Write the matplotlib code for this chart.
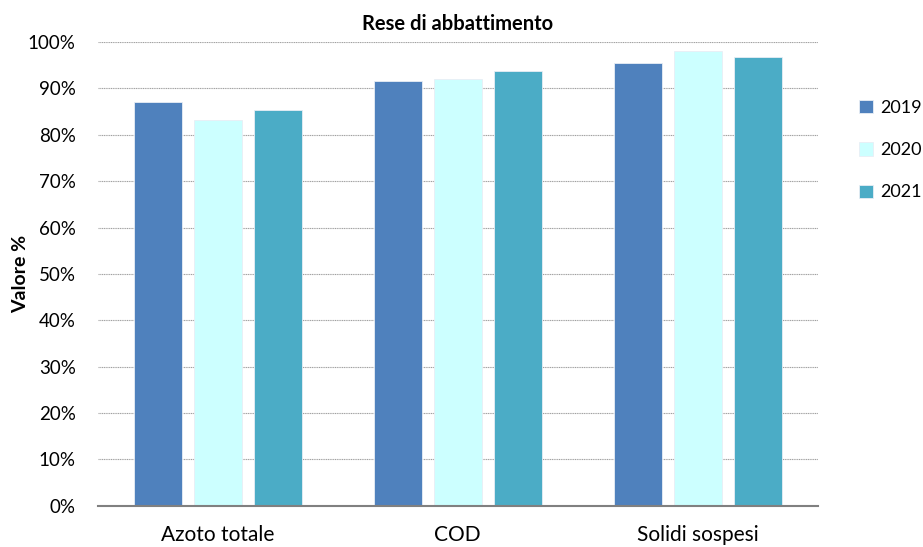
import numpy as np
import matplotlib
matplotlib.use("Agg")
import matplotlib.pyplot as plt
from matplotlib.ticker import PercentFormatter

categories = ["Azoto totale", "COD", "Solidi sospesi"]
years = ["2019", "2020", "2021"]
val_2019 = [87.1, 91.6, 95.5]
val_2020 = [83.3, 92.1, 98.1]
val_2021 = [85.3, 93.7, 96.8]
colors = ["#4F81BD", "#CCFFFF", "#4BACC6"]

plt.rcParams['font.family'] = ['Lato', 'DejaVu Sans']

fig = plt.figure(figsize=(9.23, 5.47), dpi=100)
ax = fig.add_axes([0.106, 0.0755, 0.78, 0.8475])

x = np.arange(len(categories))
w = 0.2
step = 0.25
for i, (vals, lab, c) in enumerate(zip([val_2019, val_2020, val_2021], years, colors)):
    ax.bar(x + (i - 1) * step, vals, width=w, color=c, label=lab,
           edgecolor="#e8eef5", linewidth=0.6, zorder=3)

ax.set_xlim(-0.5, 2.5)
ax.set_ylim(0, 100)
ax.set_yticks(np.arange(0, 101, 10))
ax.yaxis.set_major_formatter(PercentFormatter(decimals=0))
ax.set_xticks(x)
ax.set_xticklabels(categories, fontsize=15)
ax.tick_params(axis="y", labelsize=13.5, length=0, pad=16)
ax.tick_params(axis="x", length=0, pad=14)
ax.grid(axis="y", color="#a0a0a0", linestyle=(0, (1, 0.6)), linewidth=0.8, zorder=0)
for s in ["top", "right", "left"]:
    ax.spines[s].set_visible(False)
ax.spines["bottom"].set_color("#808080")
ax.spines["bottom"].set_linewidth(1.5)
ax.spines["bottom"].set_zorder(4)

ax.set_title("Rese di abbattimento", fontsize=14.5, fontweight="bold", pad=9)
fig.text(0.022, 0.5, "Valore %", rotation=90, fontsize=14, fontweight="bold",
         ha="center", va="center")

ax.legend(loc="upper left", bbox_to_anchor=(0.9307, 0.817), bbox_transform=fig.transFigure,
          frameon=False, fontsize=13, handlelength=0.75, handleheight=0.75,
          labelspacing=1.45, handletextpad=0.4, borderaxespad=0, borderpad=0)

fig.savefig("out.png", dpi=100)
